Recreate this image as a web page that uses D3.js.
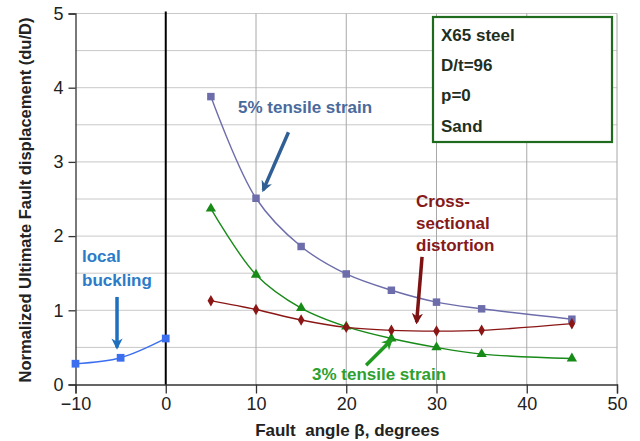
<!DOCTYPE html>
<html>
<head>
<meta charset="utf-8">
<script src="https://cdn.jsdelivr.net/npm/d3@7"></script>
<style>
  body { margin: 0; background: #fff; }
  text { font-family: "Liberation Sans", Arial, sans-serif; }
</style>
</head>
<body>
<script>
// values
var angles = [5, 10, 15, 20, 25, 30, 35, 45];
var strain5 = [3.88, 2.51, 1.86, 1.49, 1.27, 1.11, 1.02, 0.88];
var strain3 = [2.37, 1.48, 1.03, 0.78, 0.62, 0.50, 0.41, 0.35];
var distortion = [1.13, 1.01, 0.87, 0.77, 0.73, 0.72, 0.73, 0.82];
var bucklingAngles = [-10, -5, 0];
var buckling = [0.28, 0.36, 0.62];
var xTicks = [-10, 0, 10, 20, 30, 40, 50];
var yTicks = [0, 1, 2, 3, 4, 5];
var boxLines = ["X65 steel", "D/t=96", "p=0", "Sand"];

var width = 640, height = 441;
var svg = d3.select("body").append("svg")
    .attr("width", width)
    .attr("height", height);

var x = d3.scaleLinear().domain([-10, 50]).range([75.5, 617]);
var y = d3.scaleLinear().domain([0, 5]).range([384.5, 13.5]);

// grid
var grid = svg.append("g");
grid.selectAll("line.h")
    .data(d3.range(0.5, 5.01, 0.5))
    .enter().append("line")
    .attr("x1", x(-10)).attr("x2", x(50))
    .attr("y1", function (d) { return y(d); })
    .attr("y2", function (d) { return y(d); })
    .style("stroke", "#c8c8c8").style("stroke-width", 1);
grid.selectAll("line.v")
    .data([10, 20, 30, 40, 50])
    .enter().append("line")
    .attr("x1", function (d) { return x(d); })
    .attr("x2", function (d) { return x(d); })
    .attr("y1", y(0)).attr("y2", y(5))
    .style("stroke", "#a8a8a8").style("stroke-width", 1);

// axes
var xAxis = svg.append("g")
    .attr("transform", "translate(0," + y(0) + ")")
    .call(d3.axisBottom(x).tickValues(xTicks).tickSize(9).tickPadding(4).tickFormat(d3.format("d")));
var yAxis = svg.append("g")
    .attr("transform", "translate(" + x(-10) + ",0)")
    .call(d3.axisLeft(y).tickValues(yTicks).tickSize(7).tickPadding(5).tickFormat(d3.format("d")));
[xAxis, yAxis].forEach(function (a) {
    a.select(".domain").style("stroke", "#333").style("stroke-width", 1.3);
    a.selectAll(".tick line").style("stroke", "#333").style("stroke-width", 1.3);
    a.selectAll(".tick text").style("font-size", "18px").style("fill", "#222")
        .style("font-family", "Liberation Sans, Arial, sans-serif");
});

// black line at zero angle
svg.append("line")
    .attr("x1", x(0)).attr("x2", x(0))
    .attr("y1", y(0)).attr("y2", y(5) - 2)
    .style("stroke", "#000").style("stroke-width", 2);

// axis titles
svg.append("text")
    .attr("transform", "translate(31," + (y(2.5) + 1) + ") rotate(-90)")
    .attr("text-anchor", "middle")
    .style("font-size", "16.5px").style("font-weight", "bold").style("fill", "#222")
    .text("Normalized Ultimate Fault displacement (du/D)");
svg.append("text")
    .attr("x", x(20) + 1).attr("y", 436)
    .attr("text-anchor", "middle")
    .style("font-size", "17px").style("font-weight", "bold").style("fill", "#222")
    .style("white-space", "pre")
    .text("Fault  angle β, degrees");

// series
var line = d3.line()
    .x(function (d) { return x(d[0]); })
    .y(function (d) { return y(d[1]); })
    .curve(d3.curveCatmullRom.alpha(0.5));

var series = [
    { xs: angles, ys: strain5, color: "#6d6dab", shape: d3.symbolSquare, size: 56 },
    { xs: angles, ys: strain3, color: "#178a17", shape: d3.symbolTriangle, size: 46 },
    { xs: angles, ys: distortion, color: "#8b1616", shape: d3.symbolDiamond, size: 38 },
    { xs: bucklingAngles, ys: buckling, color: "#3c6ff0", shape: d3.symbolSquare, size: 60 }
];

series.forEach(function (s) {
    var pts = s.xs.map(function (v, i) { return [v, s.ys[i]]; });
    svg.append("path")
        .datum(pts)
        .attr("d", line)
        .style("fill", "none")
        .style("stroke", s.color)
        .style("stroke-width", 1.4);
    svg.selectAll(null)
        .data(pts)
        .enter().append("path")
        .attr("d", d3.symbol().type(s.shape).size(s.size))
        .attr("transform", function (d) { return "translate(" + x(d[0]) + "," + y(d[1]) + ")"; })
        .style("fill", s.color);
});

// annotation box
svg.append("rect")
    .attr("x", 433).attr("y", 17).attr("width", 179).attr("height", 125)
    .style("fill", "#fff").style("stroke", "#1e6b1e").style("stroke-width", 2.2);
svg.selectAll("text.box")
    .data(boxLines)
    .enter().append("text")
    .attr("x", 441)
    .attr("y", function (d, i) { return 40.5 + i * 30.4; })
    .style("font-size", "17px").style("font-weight", "bold").style("fill", "#1f2f1f")
    .text(function (d) { return d; });

// arrows
var defs = svg.append("defs");
function arrow(id, color, x1, y1, x2, y2, w) {
    defs.append("marker")
        .attr("id", id)
        .attr("viewBox", "0 0 10 10")
        .attr("refX", 8).attr("refY", 5)
        .attr("markerWidth", 3.2).attr("markerHeight", 3.2)
        .attr("orient", "auto")
        .append("path")
        .attr("d", "M0,0 L10,5 L0,10 L3,5 Z")
        .style("fill", color);
    svg.append("line")
        .attr("x1", x(x1)).attr("y1", y(y1))
        .attr("x2", x(x2)).attr("y2", y(y2))
        .style("stroke", color).style("stroke-width", w)
        .attr("marker-end", "url(#" + id + ")");
}
arrow("a5", "#2f5f94", 13.6, 3.40, 10.8, 2.62, 3.5);
arrow("ac", "#7c1212", 28.4, 1.72, 27.8, 0.84, 3.5);
arrow("a3", "#1f9a1f", 22.2, 0.26, 25.0, 0.60, 3.5);
arrow("ab", "#1f6fbf", -5.4, 1.18, -5.4, 0.50, 3.5);

// annotation labels
function label(txt, color, px, py) {
    svg.append("text")
        .attr("x", px).attr("y", py)
        .style("font-size", "17px").style("font-weight", "bold").style("fill", color)
        .text(txt);
}
label("5% tensile strain", "#4a6a9c", 238, 113);
label("Cross-", "#861a1a", 416, 207);
label("sectional", "#861a1a", 416, 229);
label("distortion", "#861a1a", 416, 251);
label("3% tensile strain", "#2ea02e", 312, 380);
label("local", "#2c7bc8", 82, 262);
label("buckling", "#2c7bc8", 82, 286);
</script>
</body>
</html>
